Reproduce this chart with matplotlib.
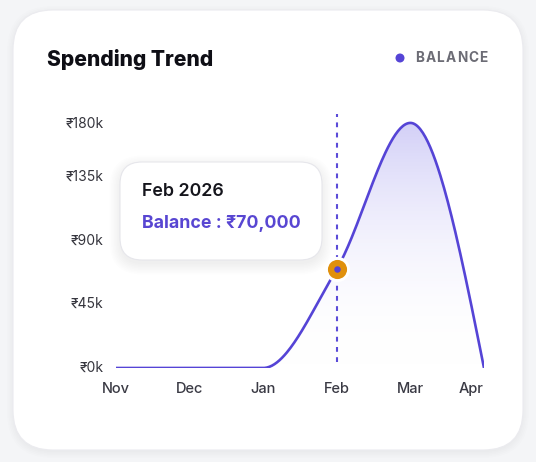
import numpy as np
import matplotlib
matplotlib.use("Agg")
import matplotlib.pyplot as plt
from matplotlib.patches import FancyBboxPatch, Circle, Polygon

plt.rcParams['font.family'] = ['Inter', 'DejaVu Sans']

months = ["Nov", "Dec", "Jan", "Feb", "Mar", "Apr"]
balance = [0, 0, 0, 70000, 173000, 0]
y_ticks = [0, 45000, 90000, 135000, 180000]
y_tick_labels = ["₹0k", "₹45k", "₹90k", "₹135k", "₹180k"]
title = "Spending Trend"
legend_label = "BALANCE"
tip_month = "Feb 2026"
tip_index = 3
tip_text = "Balance : ₹70,000"

PURPLE = "#5544d6"
W, H = 536, 462


def monotone_curve(xs, ys, n=60):
    # d3 curveMonotoneX style tangents
    xs = np.asarray(xs, float)
    ys = np.asarray(ys, float)
    h = np.diff(xs)
    s = np.diff(ys) / h
    t = np.zeros(len(xs))
    for i in range(1, len(xs) - 1):
        p = (s[i - 1] * h[i] + s[i] * h[i - 1]) / (h[i - 1] + h[i])
        t[i] = (np.sign(s[i - 1]) + np.sign(s[i])) * min(abs(s[i - 1]), abs(s[i]), 0.5 * abs(p))
    t[0] = (3 * s[0] - t[1]) / 2
    t[-1] = (3 * s[-1] - t[-2]) / 2
    px, py = [], []
    for i in range(len(xs) - 1):
        u = np.linspace(0, 1, n)
        h00 = 2 * u**3 - 3 * u**2 + 1
        h10 = u**3 - 2 * u**2 + u
        h01 = -2 * u**3 + 3 * u**2
        h11 = u**3 - u**2
        px.extend(xs[i] + u * h[i])
        py.extend(h00 * ys[i] + h10 * h[i] * t[i] + h01 * ys[i + 1] + h11 * h[i] * t[i + 1])
    return np.array(px), np.array(py)


def soft_shadow(ax, x, y, w, h, r, layers, alpha, dy):
    for k in range(layers):
        grow = k * 1.5
        ax.add_patch(FancyBboxPatch((x - grow, y - grow + dy), w + 2 * grow, h + 2 * grow,
                                    boxstyle="round,pad=0,rounding_size=%g" % (r + grow),
                                    fc=(0, 0, 0, alpha), ec="none", lw=0))


fig = plt.figure(figsize=(W / 100, H / 100), dpi=100)
fig.patch.set_facecolor("#f4f5f7")

# background layer in pixel coordinates
bg = fig.add_axes([0, 0, 1, 1], zorder=0)
bg.set_xlim(0, W)
bg.set_ylim(H, 0)
bg.axis("off")
soft_shadow(bg, 13, 10, 510, 440, 40, 5, 0.006, 2)
bg.add_patch(FancyBboxPatch((13, 10), 510, 440, boxstyle="round,pad=0,rounding_size=40",
                            fc="white", ec="#ebebef", lw=0.8))
bg.text(47, 59, title, fontsize=15.2, fontweight="heavy", color="#0e0e15", va="center", ha="left")
bg.add_patch(Circle((400, 58), 3.8, color=PURPLE))
x = 415
for ch in legend_label:
    bg.text(x, 58, ch, fontsize=9.8, fontweight="bold", color="#6c6c75", va="center", ha="left")
    x += {"B": 10.4, "A": 11.0, "L": 9.4, "N": 11.4, "C": 11.1, "E": 10}[ch]

# main chart
ax = fig.add_axes([116 / W, 94 / H, 368 / W, 255 / H], zorder=1)
ax.patch.set_alpha(0)
xi = np.arange(len(months))
for sp in ax.spines.values():
    sp.set_visible(False)

cx, cy = monotone_curve(xi, balance)
ax.plot(cx, cy, color=PURPLE, lw=1.9, solid_capstyle="butt", zorder=3)

# gradient fill under the curve
grad = np.linspace(0, 1, 256).reshape(-1, 1)
cmap = matplotlib.colors.LinearSegmentedColormap.from_list(
    "g", [(1, 1, 1, 0), (0.42, 0.38, 0.9, 0.3)])
img = ax.imshow(grad, extent=[0, len(months) - 1, 0, max(balance)], origin="lower",
                aspect="auto", cmap=cmap, zorder=2)
poly = Polygon(np.column_stack([np.r_[cx, cx[-1], cx[0]], np.r_[cy, 0, 0]]),
               closed=True, transform=ax.transData, fc="none", ec="none")
ax.add_patch(poly)
img.set_clip_path(poly)
ax.set_xlim(0, len(months) - 1)
ax.set_ylim(0, y_ticks[-1])

ax.axvline(tip_index, ymin=0.025, ymax=0.995, color="#5b4bd8", lw=1.5, ls=(0, (2.3, 2.6)), zorder=2)

ax.set_xticks(xi)
ax.set_xticklabels(months)
ax.tick_params(axis="x", length=0, pad=10, labelsize=10.5, labelcolor="#3a3a44")
for lab in ax.get_xticklabels():
    lab.set_fontweight("medium")
ax.get_xticklabels()[-1].set_ha("right")
ax.set_yticks([])
for i, (v, lab) in enumerate(zip(y_ticks, y_tick_labels)):
    dy = -8 if i == len(y_ticks) - 1 else 0
    ax.annotate(lab, xy=(0, v), xycoords=("axes fraction", "data"),
                xytext=(-9, dy), textcoords="offset points",
                ha="right", va="center", fontsize=10, color="#35353d")

# tooltip marker
ax.scatter([tip_index], [balance[tip_index]], s=330, color="white", zorder=4, clip_on=False, lw=0)
ax.scatter([tip_index], [balance[tip_index]], s=190, color="#e0900c", zorder=5, clip_on=False, lw=0)
ax.scatter([tip_index], [balance[tip_index]], s=22, color=PURPLE, zorder=6, clip_on=False, lw=0)

# tooltip box on top
top = fig.add_axes([0, 0, 1, 1], zorder=2)
top.set_xlim(0, W)
top.set_ylim(H, 0)
top.axis("off")
soft_shadow(top, 120, 162, 202, 98, 22, 8, 0.008, 4)
top.add_patch(FancyBboxPatch((120, 162), 202, 98, boxstyle="round,pad=0,rounding_size=22",
                             fc="white", ec="#e6e6eb", lw=0.8))
top.text(142, 191, tip_month, fontsize=12.8, fontweight="semibold", color="#15151c", va="center")
top.text(142, 224, tip_text, fontsize=12.8, fontweight="bold", color="#5846d2", va="center")

fig.savefig("out.png", dpi=100, facecolor=fig.get_facecolor())
